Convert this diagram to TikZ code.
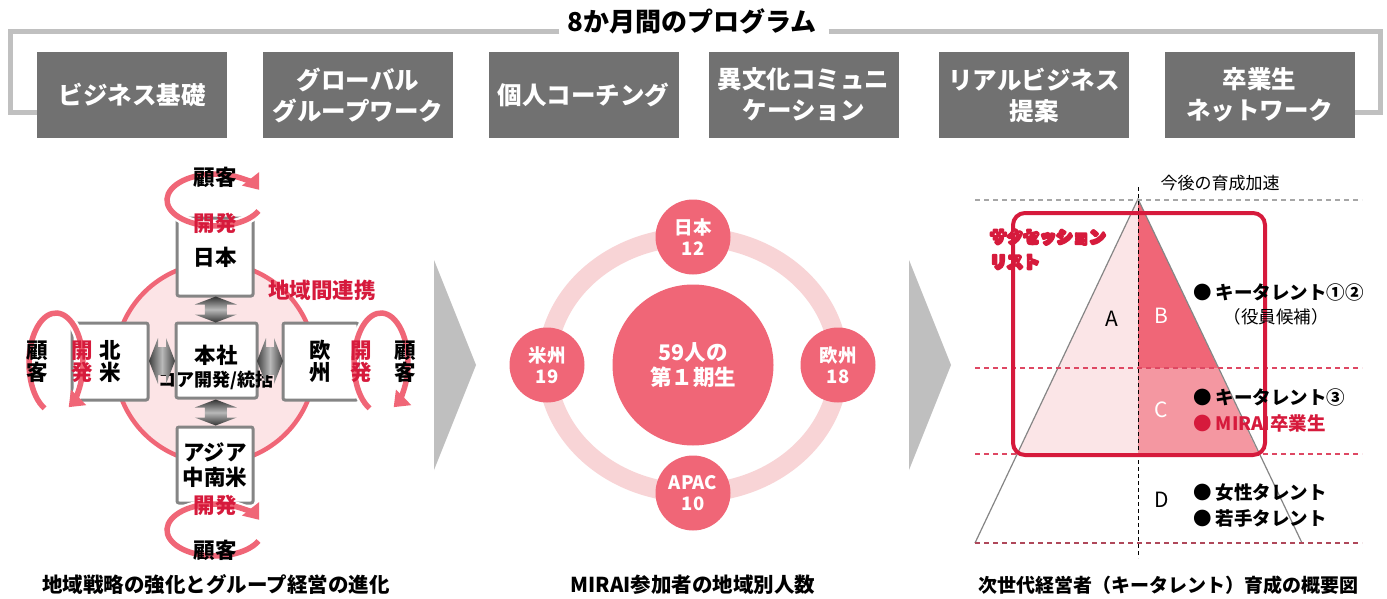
\documentclass[tikz,border=0pt]{standalone}
\usepackage{fontspec}
\setmainfont{Noto Sans CJK JP}
\usetikzlibrary{arrows.meta,calc}
\definecolor{boxgray}{HTML}{717171}
\definecolor{brgray}{HTML}{C0C0C0}
\definecolor{pinkc}{HTML}{F06677}
\definecolor{lightpink}{HTML}{FCE4E6}
\definecolor{ringc}{HTML}{F8D4D6}
\definecolor{redc}{HTML}{D61A3C}
\definecolor{cfill}{HTML}{F497A1}
\definecolor{afill}{HTML}{FBE5E7}
\definecolor{chevc}{HTML}{BFBFBF}
\definecolor{bordc}{HTML}{858585}
\newcommand\fsz[2]{\fontsize{#1}{#2}\selectfont}
\newcommand\outlinedtext[1]{\special{pdf:code q 2 Tr 2.7 w 1 j 0.839 0.102 0.235 RG}#1\special{pdf:code Q}}
\begin{document}
\begin{tikzpicture}[x=1pt,y=-1pt,
  progbox/.style={fill=boxgray, text=white, font=\bfseries\fsz{24.5}{31}, minimum width=190, minimum height=86, align=center, inner sep=0},
  bracket/.style={brgray, line width=5},
  regbox/.style={draw=bordc, line width=3, fill=white, rounded corners=2, inner sep=0, align=center, font=\bfseries\fsz{21.5}{22}},
  lbl/.style={font=\bfseries\fsz{21.5}{22}, align=center, inner sep=0},
  redlbl/.style={lbl, text=redc},
  loopst/.style={pinkc, line width=5.5, -{Triangle[width=21,length=14]}},
  halo/.style={white, line width=10},
  smallc/.style={circle, fill=pinkc, minimum size=75, inner sep=0, text=white, align=center, font=\bfseries\fsz{18.5}{21.5}},
  bigc/.style={circle, fill=pinkc, minimum size=161, inner sep=0, text=white, align=center, font=\bfseries\fsz{21.5}{25.5}},
  captext/.style={font=\bfseries\fsz{19}{22}, inner sep=0},
  bul/.style={font=\bfseries\fsz{18.5}{21}, anchor=west, inner sep=0},
  letter/.style={font=\fsz{21}{22}, inner sep=0},
  succst/.style={font=\bfseries\fsz{16.5}{20}, anchor=west, inner sep=0, text=white},
  dbl/.style={left color=black!75, right color=black!75, middle color=gray!55},
  dblv/.style={top color=black!80, bottom color=black!80, middle color=gray!55}
]
\useasboundingbox (0,0) rectangle (1387,599);
\fill[white] (0,0) rectangle (1387,599);

% ---------------- top programme ----------------
\node[font=\bfseries\fsz{26}{30}, inner sep=0] (title) at (692,21) {8か月間のプログラム};
\coordinate (brTL) at (10,32);
\coordinate (brBL) at (10,113);
\coordinate (brTR) at (1380,32);
\coordinate (brBR) at (1380,113);
\draw[bracket] ([xshift=-8]title.west |- brTL) -- (brTL) -- (brBL) -- (37,113);
\draw[bracket] ([xshift=12]title.east |- brTR) -- (brTR) -- (brBR) -- (1355,113);
\node[progbox] (b1) at (132,95) {ビジネス基礎};
\node[progbox] (b2) at (358,95) {グローバル\\グループワーク};
\node[progbox] (b3) at (583.5,95) {個人コーチング};
\node[progbox] (b4) at (803.5,95) {異文化コミュニ\\ケーション};
\node[progbox] (b5) at (1034,95) {リアルビジネス\\提案};
\node[progbox] (b6) at (1259.5,95) {卒業生\\ネットワーク};

% ---------------- left diagram ----------------
\fill[lightpink] (215,363) circle (100);
\draw[pinkc, line width=4.5] (215,363) circle (100);
\node[regbox, minimum width=76, minimum height=78] (nihon) at (215,257) {日本};
\node[regbox, minimum width=81, minimum height=75] (honsha) at (216.5,360.5) {};
\node[regbox, minimum width=76, minimum height=77] (hokubei) at (110,361.5) {北\\米};
\node[regbox, minimum width=75, minimum height=77] (oushu) at (320.5,361.5) {欧\\州};
\node[regbox, minimum width=76, minimum height=76, font=\bfseries\fsz{21.5}{25}] (asia) at (215,465) {アジア\\中南米};
\node[lbl] (honshaT) at (216,355) {本社};
\node[lbl, font=\bfseries\fsz{18}{20}] (coreT) at (216,380) {コア開発/統括};
\node[redlbl] (renkei) at (322,290) {地域間連携};

% double arrows
\coordinate (da1) at ($(nihon.south)!0.5!(honsha.north)$);
\coordinate (da2) at ($(honsha.south)!0.5!(asia.north)$);
\coordinate (da3) at ($(hokubei.east)!0.5!(honsha.west)$);
\coordinate (da4) at ($(honsha.east)!0.5!(oushu.west)$);
\foreach \c in {da1,da2}{
  \shade[dblv, shift={(\c)}] (0,-13) -- (21,-5) -- (11,-5) -- (11,5) -- (21,5) -- (0,13) -- (-21,5) -- (-11,5) -- (-11,-5) -- (-21,-5) -- cycle;
}
\foreach \c in {da3,da4}{
  \shade[dbl, shift={(\c)}] (-13,0) -- (-4,-23) -- (-4,-14) -- (4,-14) -- (4,-23) -- (13,0) -- (4,23) -- (4,14) -- (-4,14) -- (-4,23) -- cycle;
}

% loops
\coordinate (lT) at (215,200);
\coordinate (lB) at (215,530);
\coordinate (lL) at (56,363);
\coordinate (lR) at (381,363);
\foreach \c in {lT,lB}{
  \draw[halo] ($(\c)+(25:48 and 26)$) arc[start angle=25, end angle=325, x radius=48, y radius=26];
  \draw[loopst] ($(\c)+(25:48 and 26)$) arc[start angle=25, end angle=337, x radius=48, y radius=26];
}
\foreach \c in {lL,lR}{
  \draw[halo] ($(\c)+(115:27 and 50)$) arc[start angle=115, end angle=410, x radius=27, y radius=50];
  \draw[loopst] ($(\c)+(115:27 and 50)$) arc[start angle=115, end angle=422, x radius=27, y radius=50];
}
\node[lbl] (kT) at (215,177) {顧客};
\node[redlbl] (hT) at (215,223) {開発};
\node[redlbl] (hB) at (215,505) {開発};
\node[lbl] (kB) at (215,550) {顧客};
\node[lbl] (kL) at (37,361.5) {顧\\客};
\node[redlbl] (hL) at (82,361.5) {開\\発};
\node[redlbl] (hR) at (361,361.5) {開\\発};
\node[lbl] (kR) at (405,361.5) {顧\\客};
\node[captext, font=\bfseries\fsz{20.5}{22}] (cap1) at (216,585) {地域戦略の強化とグループ経営の進化};

% chevrons
\fill[chevc] (434,260) -- (476,365) -- (434,470) -- cycle;
\fill[chevc] (909,260) -- (951,365) -- (909,470) -- cycle;

% ---------------- middle diagram ----------------
\draw[ringc, line width=19] (693,365) ellipse [x radius=146, y radius=128];
\node[bigc] (total) at (693,365) {59人の\\第１期生};
\node[smallc] (jp) at (693,237) {日本\\12};
\node[smallc] (us) at (547,365) {米州\\19};
\node[smallc] (eu) at (838,365) {欧州\\18};
\node[smallc] (apac) at (693,493) {APAC\\10};
\node[captext, font=\bfseries\fsz{20.5}{22}] (cap2) at (693,585) {MIRAI参加者の地域別人数};

% ---------------- right diagram ----------------
\coordinate (P) at (1138,199);
\coordinate (L) at (975,543);
\coordinate (R) at (1302,543);
\fill[afill] (P) -- (1017.2,454) -- (1138,454) -- cycle;
\fill[pinkc] (P) -- (1218.1,368) -- (1138,368) -- cycle;
\fill[cfill] (1138,368) -- (1218.1,368) -- (1258.8,454) -- (1138,454) -- cycle;
\draw[bordc, line width=1.2] (L) -- (P) -- (R);
\draw[gray!70, line width=1.2, dash pattern=on 5 off 4] (975,200) -- (1362,200);
\draw[redc!80, line width=1.2, dash pattern=on 5 off 4] (975,368) -- (1362,368);
\draw[redc!80, line width=1.2, dash pattern=on 5 off 4] (975,454) -- (1362,454);
\draw[redc!55!gray, line width=1.2, dash pattern=on 5 off 4] (975,543) -- (1362,543);
\draw[black, line width=1, dash pattern=on 4 off 3] (1138,187) -- (1138,558);
\draw[redc, line width=4, rounded corners=12] (1013,213) rectangle (1265,455);
\node[font=\fsz{17}{20}, inner sep=0] (kongo) at (1220,183) {今後の育成加速};

\node[succst] (succ) at (990,237) {\outlinedtext{サクセッション}};
\node[succst] (list) at (990,262) {\outlinedtext{リスト}};

\node[letter] (A) at (1112,319) {A};
\node[letter, text=white] (B) at (1161,316) {B};
\node[letter, text=white] (C) at (1161,410) {C};
\node[letter] (D) at (1162,500) {D};

\node[bul] (t12) at (1193,292) {● キータレント①②};
\node[font=\fsz{17.5}{20}, inner sep=0] (yakuin) at (1276,317) {（役員候補）};
\node[bul] (t3) at (1193,397) {● キータレント③};
\node[bul, text=redc] (grad) at (1193,423) {● MIRAI卒業生};
\node[bul] (women) at (1193,493) {● 女性タレント};
\node[bul] (young) at (1193,518) {● 若手タレント};
\node[captext] (cap3) at (1168,585) {次世代経営者（キータレント）育成の概要図};
\end{tikzpicture}
\end{document}
